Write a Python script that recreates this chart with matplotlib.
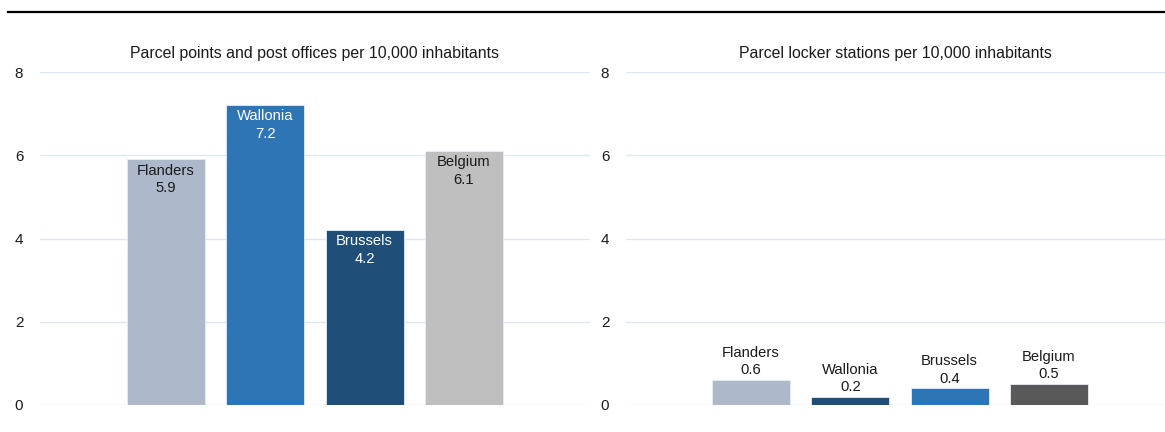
import matplotlib.pyplot as plt
from matplotlib.lines import Line2D

plt.rcParams['font.family'] = ['Liberation Sans', 'DejaVu Sans']

regions = ['Flanders', 'Wallonia', 'Brussels', 'Belgium']
parcel_points = [5.9, 7.2, 4.2, 6.1]
locker_stations = [0.6, 0.2, 0.4, 0.5]

left_colors = ['#ADB9CA', '#2E75B6', '#1F4E79', '#BFBFBF']
left_text = ['#1a1a1a', 'white', 'white', '#1a1a1a']
right_colors = ['#ADB9CA', '#1F4E79', '#2E75B6', '#595959']

titles = ['Parcel points and post offices per 10,000 inhabitants',
          'Parcel locker stations per 10,000 inhabitants']
yticks = [0, 2, 4, 6, 8]

fig = plt.figure(figsize=(11.65, 4.32), dpi=100)
ax1 = fig.add_axes([0.0343, 0.0625, 0.4721, 0.7708])
ax2 = fig.add_axes([0.5373, 0.0625, 0.4627, 0.7708])

x = list(range(len(regions)))


def style_axis(ax, title, xlim):
    ax.set_ylim(0, 8)
    ax.set_xlim(*xlim)
    ax.set_yticks(yticks)
    ax.set_xticks([])
    ax.grid(axis='y', color='#DDE6F3', linewidth=1)
    ax.set_axisbelow(True)
    for s in ax.spines.values():
        s.set_visible(False)
    ax.tick_params(axis='y', length=0, pad=12, labelsize=11, labelcolor='#1a1a1a')
    ax.set_title(title, fontsize=11.4, color='#1a1a1a', pad=10)


# left panel: labels inside the bar tops
bars = ax1.bar(x, parcel_points, width=0.785, color=left_colors,
               edgecolor='#E8EDF5', linewidth=0.6)
for b, name, v, c in zip(bars, regions, parcel_points, left_text):
    ax1.annotate(f'{name}\n{v:.1f}', (b.get_x() + b.get_width() / 2, v),
                 xytext=(0, -3), textcoords='offset points',
                 ha='center', va='top', fontsize=10.6, color=c, linespacing=1.3)
style_axis(ax1, titles[0], (-1.27, 4.27))

# right panel: labels above the bars
bars = ax2.bar(x, locker_stations, width=0.785, color=right_colors,
               edgecolor='#E8EDF5', linewidth=0.6)
for b, name, v in zip(bars, regions, locker_stations):
    ax2.annotate(f'{name}\n{v:.1f}', (b.get_x() + b.get_width() / 2, v),
                 xytext=(0, 2), textcoords='offset points',
                 ha='center', va='bottom', fontsize=10.6, color='#1a1a1a',
                 linespacing=1.3)
style_axis(ax2, titles[1], (-1.26, 4.17))

fig.add_artist(Line2D([0.007, 1.0], [1 - 12 / 432] * 2, color='black',
                      linewidth=1.6, transform=fig.transFigure))

fig.savefig('out.png', dpi=100)
